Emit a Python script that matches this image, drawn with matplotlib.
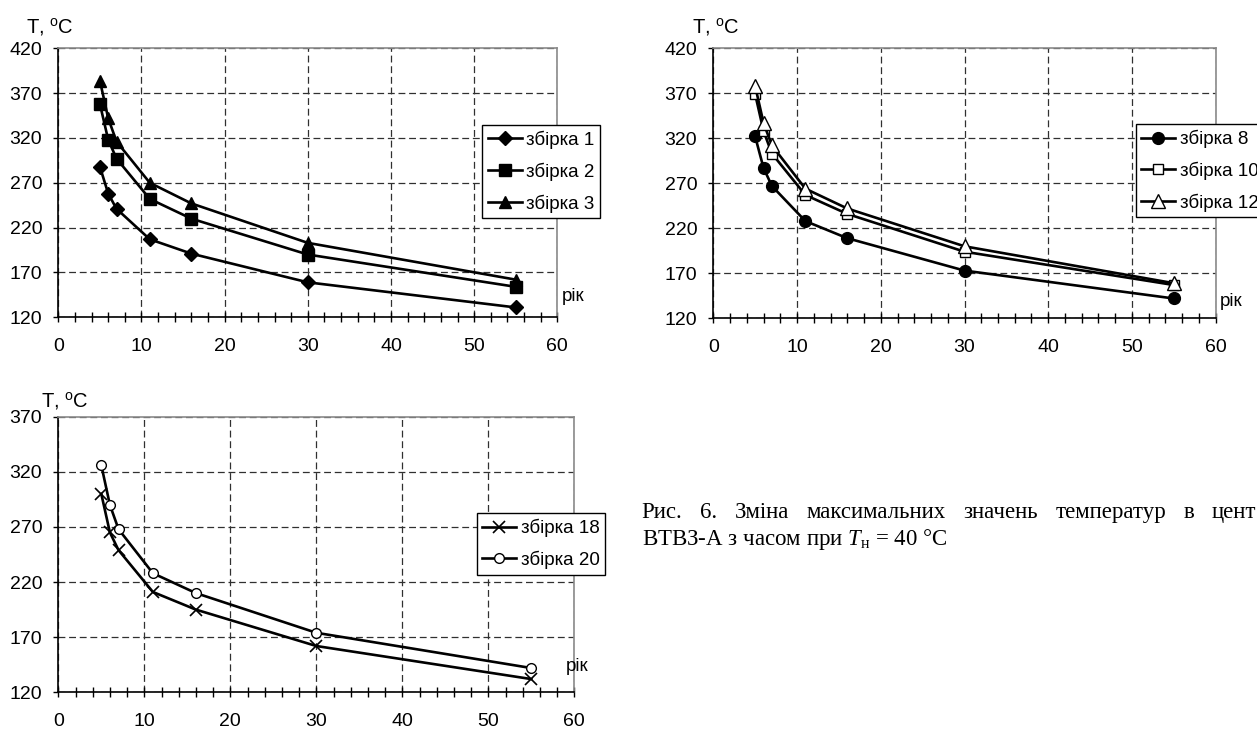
import matplotlib
matplotlib.use("Agg")
import matplotlib.pyplot as plt

plt.rcParams['font.family'] = ['Liberation Sans', 'DejaVu Sans']
plt.rcParams['mathtext.fontset'] = 'custom'
plt.rcParams['mathtext.rm'] = 'Liberation Serif'
plt.rcParams['mathtext.it'] = 'Liberation Serif:italic'
plt.rcParams['mathtext.sf'] = 'Liberation Sans'

# ---------------- data ----------------
years = [5, 6, 7, 11, 16, 30, 55]

s1 = [288, 258, 241, 207, 191, 159, 131]
s2 = [358, 318, 297, 252, 230, 190, 154]
s3 = [384, 342, 316, 270, 247, 203, 162]

s8 = [322, 287, 267, 228, 209, 173, 142]
s10 = [369, 328, 303, 257, 236, 194, 157]
s12 = [378, 337, 312, 264, 242, 200, 159]

s18 = [300, 265, 249, 211, 195, 162, 132]
s20 = [326, 290, 268, 228, 210, 174, 142]

labels_a = ['збірка 1', 'збірка 2', 'збірка 3']
labels_b = ['збірка 8', 'збірка 10', 'збірка 12']
labels_c = ['збірка 18', 'збірка 20']

x_ticks = [0, 10, 20, 30, 40, 50, 60]
y_ticks_top = [120, 170, 220, 270, 320, 370, 420]
y_ticks_bot = [120, 170, 220, 270, 320, 370]

ylabel = 'T, $^{\\mathsf{o}}$C'
xlabel = 'рік'

caption_line1 = 'Рис. 6. Зміна максимальних значень температур в цент'
caption_line2 = 'ВТВЗ-А з часом при $T_{\\mathrm{н}}$ = 40 °C'

W, H = 1257, 731
fig = plt.figure(figsize=(W / 100, H / 100), dpi=100)


def rect(l, r, t, b):
    return [l / W, 1 - b / H, (r - l) / W, (b - t) / H]


def setup(ax, yt):
    ax.set_xlim(0, 60)
    ax.set_ylim(yt[0], yt[-1])
    ax.set_xticks(x_ticks)
    ax.set_xticks(range(0, 61, 2), minor=True)
    ax.set_yticks(yt)
    ax.tick_params(axis='x', which='both', direction='inout', length=7.2,
                   width=1, pad=11, labelsize=14, color='k')
    ax.tick_params(axis='y', direction='out', length=3.6, width=1, pad=8.0,
                   labelsize=14)
    ax.grid(True, which='major', linestyle=(0, (5.5, 3)), color='#303030', lw=0.9)
    for s in ['top', 'right']:
        ax.spines[s].set_color('#8a8a8a')
        ax.spines[s].set_linewidth(1.2)
    for s in ['left', 'bottom']:
        ax.spines[s].set_color('k')
        ax.spines[s].set_linewidth(1.2)


lw = 1.9
common = dict(color='k', lw=lw, clip_on=False, zorder=3)

# ---- top-left ----
ax1 = fig.add_axes(rect(58.3, 557.3, 48.3, 317.3))
setup(ax1, y_ticks_top)
ax1.plot(years, s1, marker='D', ms=7.5, mfc='k', mec='k', label=labels_a[0], **common)
ax1.plot(years, s2, marker='s', ms=8, mfc='k', mec='k', label=labels_a[1], **common)
ax1.plot(years, s3, marker='^', ms=9, mfc='k', mec='k', label=labels_a[2], **common)

# ---- top-right ----
ax2 = fig.add_axes(rect(713.3, 1215.7, 48.3, 318.3))
setup(ax2, y_ticks_top)
ax2.plot(years, s8, marker='o', ms=8.5, mfc='k', mec='k', label=labels_b[0], **common)
ax2.plot(years, s10, marker='s', ms=7, mfc='white', mec='k', mew=1.0, label=labels_b[1], **common)
ax2.plot(years, s12, marker='^', ms=9.5, mfc='white', mec='k', mew=1.0, label=labels_b[2], **common)

# ---- bottom-left ----
ax3 = fig.add_axes(rect(58.3, 574.3, 416.7, 692.3))
setup(ax3, y_ticks_bot)
ax3.plot(years, s18, marker='x', ms=8.5, mfc='k', mec='k', mew=1.2, label=labels_c[0], **common)
ax3.plot(years, s20, marker='o', ms=7, mfc='white', mec='k', mew=1.0, label=labels_c[1], **common)

leg_kw = dict(loc='upper left', borderaxespad=0, frameon=True, fancybox=False,
              edgecolor='k', framealpha=1, fontsize=13.5, handlelength=1.8,
              handletextpad=0.25, borderpad=0.3, labelspacing=0.72)
for ax, anchor in [(ax1, (0.8497, 0.7149)), (ax2, (0.8408, 0.7185)), (ax3, (0.8109, 0.6495))]:
    leg = ax.legend(bbox_to_anchor=anchor, **leg_kw)
    leg.get_frame().set_linewidth(1.0)
    leg.set_zorder(5)

# axis titles
for (x, y) in [(26.0, 33.0), (692.5, 33.0), (41.0, 406.7)]:
    fig.text(x / W, 1 - y / H, ylabel, fontsize=14.5, ha='left', va='baseline')
for (x, y) in [(561.7, 296.7), (1219.7, 301.7), (565.7, 666.7)]:
    fig.text(x / W, 1 - y / H, xlabel, fontsize=13.5, ha='left', va='center')

# caption (first line justified between x0 and the start of its last word)
cap_fs = 16.5
x0, x_last, base1, base2 = 641.7, 1211.7, 518.3, 545.0
words = caption_line1.split(' ')
renderer = fig.canvas.get_renderer()
texts = [fig.text(0, 1 - base1 / H, w, fontsize=cap_fs, family='Liberation Serif',
                  ha='left', va='baseline') for w in words]
widths = [t.get_window_extent(renderer).width for t in texts]
gap = (x_last - x0 - sum(widths[:-1])) / (len(words) - 1)
xx = x0
for t, wdt in zip(texts, widths):
    t.set_x(xx / W)
    xx += wdt + gap
fig.text(x0 / W, 1 - base2 / H, caption_line2, fontsize=cap_fs,
         family='Liberation Serif', ha='left', va='baseline')

fig.savefig('out.png', dpi=100)
